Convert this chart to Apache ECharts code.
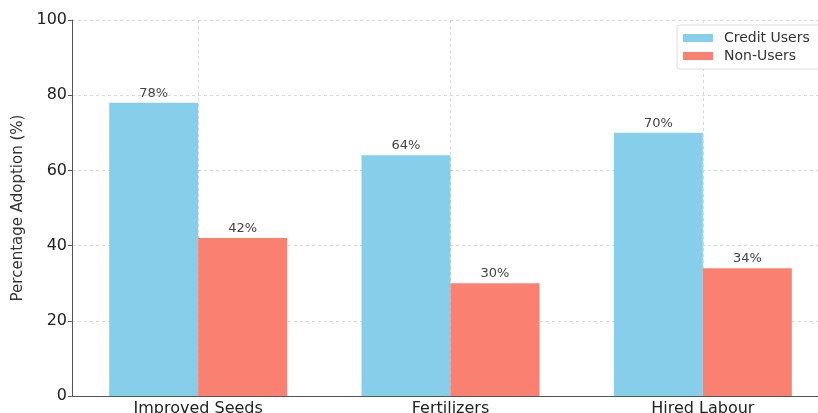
<!DOCTYPE html>
<html>
<head>
<meta charset="utf-8">
<script src="https://cdn.jsdelivr.net/npm/echarts@6/dist/echarts.min.js"></script>
<style>
  html, body { margin: 0; padding: 0; background: #fff; }
  #container { width: 818px; height: 413px; }
</style>
</head>
<body>
<div id="container"></div>
<script>
var categories = ['Improved Seeds', 'Fertilizers', 'Hired Labour'];
var creditUsers = [78, 64, 70];
var nonUsers = [42, 30, 34];
var yTicks = [0, 20, 40, 60, 80, 100];

var dom = document.getElementById('container');
var myChart = echarts.init(dom, null, { renderer: 'canvas' });

var gridStyle = { color: '#d9d9d9', type: [3, 3], width: 1 };
var labelStyle = {
  show: true,
  position: 'top',
  distance: 3,
  formatter: '{c}%',
  color: '#444',
  fontSize: 13,
  fontFamily: 'DejaVu Sans'
};

var option = {
  animation: false,
  grid: { left: 72, top: 20, bottom: 17, right: -11, outerBoundsMode: 'none', containLabel: false },
  legend: {
    data: ['Credit Users', 'Non-Users'],
    orient: 'vertical',
    left: 677,
    top: 25,
    icon: 'rect',
    itemWidth: 30,
    itemHeight: 8,
    itemGap: 4,
    padding: [6, 20, 6, 6],
    borderColor: '#ddd',
    borderWidth: 1,
    borderRadius: 3,
    backgroundColor: '#fff',
    textStyle: { color: '#333', fontSize: 14, fontFamily: 'DejaVu Sans', padding: [0, 0, 0, 6] }
  },
  xAxis: {
    type: 'category',
    data: categories,
    axisLine: { lineStyle: { color: '#555' } },
    axisTick: { alignWithLabel: true, length: 4, lineStyle: { color: '#555' } },
    axisLabel: { color: '#222', fontSize: 16, fontFamily: 'DejaVu Sans', margin: 5 },
    splitLine: { show: true, alignWithLabel: true, lineStyle: gridStyle }
  },
  yAxis: {
    type: 'value',
    min: yTicks[0],
    max: yTicks[yTicks.length - 1],
    interval: 20,
    name: 'Percentage Adoption (%)',
    nameLocation: 'middle',
    nameGap: 46,
    nameTextStyle: { color: '#333', fontSize: 15, fontFamily: 'DejaVu Sans' },
    axisLine: { show: true, lineStyle: { color: '#555' } },
    axisTick: { show: true, length: 4, lineStyle: { color: '#555' } },
    axisLabel: { color: '#222', fontSize: 16, fontFamily: 'DejaVu Sans', margin: 5 },
    splitLine: { show: true, lineStyle: gridStyle }
  },
  series: [
    {
      name: 'Credit Users',
      type: 'bar',
      data: creditUsers,
      barWidth: 89,
      barGap: '0%',
      itemStyle: { color: '#87CEEB' },
      label: labelStyle
    },
    {
      name: 'Non-Users',
      type: 'bar',
      data: nonUsers,
      barWidth: 89,
      barGap: '0%',
      itemStyle: { color: '#FA8072' },
      label: labelStyle
    }
  ]
};

myChart.setOption(option);
window.addEventListener('resize', myChart.resize);
</script>
</body>
</html>
